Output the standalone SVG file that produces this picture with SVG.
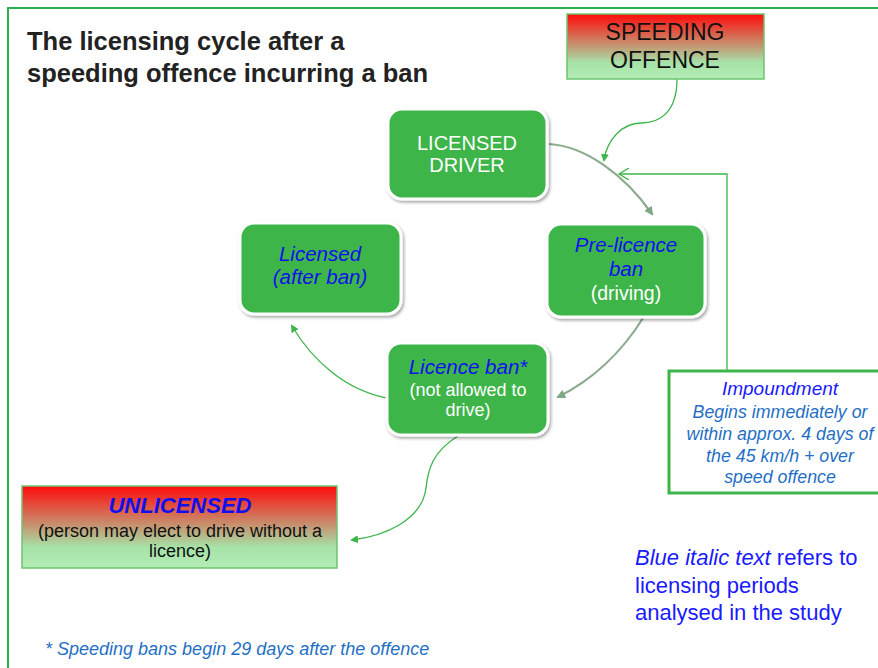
<svg xmlns="http://www.w3.org/2000/svg" width="878" height="668" viewBox="0 0 878 668">
<defs>
<linearGradient id="rg" x1="0" y1="0" x2="0" y2="1">
<stop offset="0" stop-color="#ff0a0a"/>
<stop offset="0.45" stop-color="#c98a6a"/>
<stop offset="0.75" stop-color="#a6e3a8"/>
<stop offset="1" stop-color="#b4ecb6"/>
</linearGradient>
<filter id="sh" x="-10%" y="-10%" width="130%" height="130%">
<feDropShadow dx="1.5" dy="2" stdDeviation="1.5" flood-color="#000" flood-opacity="0.35"/>
</filter>
<marker id="ag" markerWidth="8" markerHeight="8" refX="6" refY="4" orient="auto" markerUnits="userSpaceOnUse">
<path d="M0,0 L8,4 L0,8 z" fill="#3cb54a"/>
</marker>
<marker id="agr" markerWidth="9" markerHeight="9" refX="7" refY="4.5" orient="auto" markerUnits="userSpaceOnUse">
<path d="M0,0 L9,4.5 L0,9 z" fill="#7fa884"/>
</marker>
<marker id="aopen" markerWidth="12" markerHeight="12" refX="10" refY="6" orient="auto" markerUnits="userSpaceOnUse">
<path d="M0,0 L10,6 L0,12" fill="none" stroke="#3cb54a" stroke-width="1.3"/>
</marker>
<style>
.node{fill:#3cb54a;stroke:#fff;stroke-width:3;filter:url(#sh)}
.grad{fill:url(#rg);stroke:#6cc56f;stroke-width:1.5}
text{font-family:"Liberation Sans",Arial,sans-serif;text-anchor:middle}
.w{fill:#fff;font-size:19.5px}
.bi{fill:#1010ee;font-style:italic;font-size:20.5px}
.sb{fill:#1f6fc5;font-style:italic;font-size:17.8px}
.k{fill:#111;font-size:18px}
.c{fill:none;stroke:#3cb54a;stroke-width:1.3}
.cg{fill:none;stroke:#8aab8d;stroke-width:2.2}
</style>
</defs>
<rect width="878" height="668" fill="#fff"/>
<path d="M8,668 V8 H878" fill="none" stroke="#27b24a" stroke-width="2"/>

<g id="title">
<text x="27" y="50" style="text-anchor:start;font-weight:bold;font-size:25.5px;fill:#222">The licensing cycle after a</text>
<text x="27" y="82" style="text-anchor:start;font-weight:bold;font-size:25.5px;fill:#222">speeding offence incurring a ban</text>
</g>

<g id="connectors">
<path class="c" d="M677,79 C677,112 660,123 641,123 C622,123 607,140 604,160" marker-end="url(#ag)"/>
<path class="c" d="M727,371 V174 H619" marker-end="url(#aopen)"/>
<path class="cg" d="M549,144 C585,146 625,175 652,214" marker-end="url(#agr)"/>
<path class="cg" d="M643,318 C622,352 592,380 558,397" marker-end="url(#agr)"/>
<path class="c" d="M387,398 C345,390 312,360 292,326" marker-end="url(#ag)"/>
<path class="c" d="M458,436 C432,452 428,470 426,488 C422,520 385,536 352,540" marker-end="url(#ag)"/>
</g>

<g id="speeding">
<rect class="grad" x="567" y="14" width="197" height="65"/>
<text x="665" y="40" style="font-size:23px;fill:#111">SPEEDING</text>
<text x="665" y="68" style="font-size:23px;fill:#111">OFFENCE</text>
</g>

<g id="licensed-driver">
<rect class="node" x="388" y="109" width="159" height="90" rx="14"/>
<text class="w" x="467" y="150" style="font-size:20px">LICENSED</text>
<text class="w" x="467" y="172" style="font-size:20px">DRIVER</text>
</g>

<g id="pre-licence">
<rect class="node" x="547" y="224" width="158" height="93" rx="14"/>
<text class="bi" x="626" y="252">Pre-licence</text>
<text class="bi" x="626" y="276">ban</text>
<text class="w" x="626" y="300">(driving)</text>
</g>

<g id="licensed-after">
<rect class="node" x="240" y="223" width="161" height="91" rx="14"/>
<text class="bi" x="320" y="261">Licensed</text>
<text class="bi" x="320" y="284">(after ban)</text>
</g>

<g id="licence-ban">
<rect class="node" x="387" y="343" width="161" height="92" rx="14"/>
<text class="bi" x="468" y="374">Licence ban*</text>
<text class="w" x="468" y="396" style="font-size:18px">(not allowed to</text>
<text class="w" x="468" y="416" style="font-size:18px">drive)</text>
</g>

<g id="impoundment">
<rect x="669" y="371" width="215" height="122" fill="#fff" stroke="#3cb54a" stroke-width="3"/>
<text x="780" y="395" style="font-size:19px;font-style:italic;fill:#1a1aff">Impoundment</text>
<text class="sb" x="780" y="418">Begins  immediately or</text>
<text class="sb" x="780" y="440">within approx. 4 days of</text>
<text class="sb" x="780" y="462">the 45 km/h + over</text>
<text class="sb" x="780" y="483">speed offence</text>
</g>

<g id="unlicensed">
<rect class="grad" x="22" y="486" width="315" height="82"/>
<text x="180" y="513" style="font-size:22px;font-weight:bold;font-style:italic;fill:#1010ee">UNLICENSED</text>
<text class="k" x="180" y="537">(person may elect to drive without a</text>
<text class="k" x="180" y="557">licence)</text>
</g>

<g id="footnote">
<text class="sb" x="45" y="655" style="text-anchor:start;font-size:18px">* Speeding bans begin 29 days after the offence</text>
</g>

<g id="legend">
<text x="635" y="565" style="text-anchor:start;font-size:22px;fill:#1a1aff"><tspan font-style="italic">Blue italic text</tspan> refers to</text>
<text x="635" y="593" style="text-anchor:start;font-size:22px;fill:#1a1aff">licensing periods</text>
<text x="635" y="620" style="text-anchor:start;font-size:22px;fill:#1a1aff">analysed in the study</text>
</g>
</svg>
